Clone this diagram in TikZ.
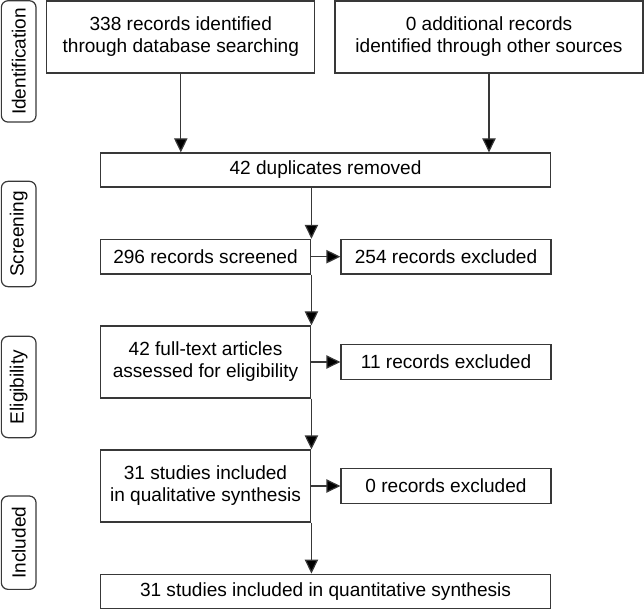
\documentclass[tikz,border=0pt]{standalone}
\usepackage{fontspec}
\setmainfont{Liberation Sans}
\usetikzlibrary{arrows.meta, positioning, shapes}
\definecolor{linegray}{rgb}{0.22, 0.22, 0.22}

\begin{document}
\begin{tikzpicture}[x=0.75pt, y=-0.75pt,
		box/.style={draw=linegray, line width=0.9pt, inner sep=0pt, align=center, font=\fontsize{14.3}{16.5}\selectfont},
		phase/.style={draw=linegray, line width=0.9pt, rounded corners=5pt, rotate=90, inner sep=0pt, minimum height=26pt, font=\fontsize{14.3}{16.5}\selectfont},
		flow/.style={-{Triangle[length=10.5pt, width=10pt, fill=black]}, draw=linegray, line width=0.9pt}]
		\useasboundingbox (0,0) rectangle (644,610);
		%% phase labels on the left
		\node[phase, minimum width=91pt] (ident) at (18.7, 61.4) {Identification};
		\node[phase, minimum width=79pt] (screen) at (18.7, 234) {Screening};
		\node[phase, minimum width=76pt] (elig) at (18.7, 387) {Eligibility};
		\node[phase, minimum width=70pt] (incl) at (18.7, 542.7) {Included};
		
		%% boxes
		\node[box, minimum width=201pt, minimum height=54pt] (db) at (180.8, 37) {338 records identified\\through database searching};
		\node[box, minimum width=231pt, minimum height=54pt] (other) at (489, 37) {0 additional records\\identified through other sources};
		\node[box, minimum width=338pt, minimum height=25.5pt] (dup) at (325.5, 170) {42 duplicates removed};
		\node[box, minimum width=158pt, minimum height=26pt] (screened) at (205.5, 256.7) {296 records screened};
		\node[box, minimum width=157.5pt, minimum height=26pt] (exclA) at (446, 256.7) {254 records excluded};
		\node[box, minimum width=158pt, minimum height=54pt] (fulltext) at (205.5, 362) {42 full-text articles\\assessed for eligibility};
		\node[box, minimum width=157.5pt, minimum height=26pt] (exclB) at (446, 362) {11 records excluded};
		\node[box, minimum width=158pt, minimum height=54pt] (qual) at (205.5, 486) {31 studies included\\in qualitative synthesis};
		\node[box, minimum width=157.5pt, minimum height=26pt] (exclC) at (446, 486) {0 records excluded};
		\node[box, minimum width=338pt, minimum height=26pt] (quant) at (325.5, 591.5) {31 studies included in quantitative synthesis};
		
		%% connectors
		\draw[flow] (db.south) -- (db.south |- dup.north);
		\draw[flow] (other.south) -- (other.south |- dup.north);
		\draw[flow] (dup.south -| screened.east) -- (screened.north east);
		\draw[flow] (screened.south east) -- (fulltext.north east);
		\draw[flow] (fulltext.south east) -- (qual.north east);
		\draw[flow] (qual.south east) -- (qual.south east |- quant.north);
		\draw[flow] (screened.east) -- (exclA.west);
		\draw[flow] (fulltext.east) -- (exclB.west);
		\draw[flow] (qual.east) -- (exclC.west);
		\end{tikzpicture}
\end{document}
